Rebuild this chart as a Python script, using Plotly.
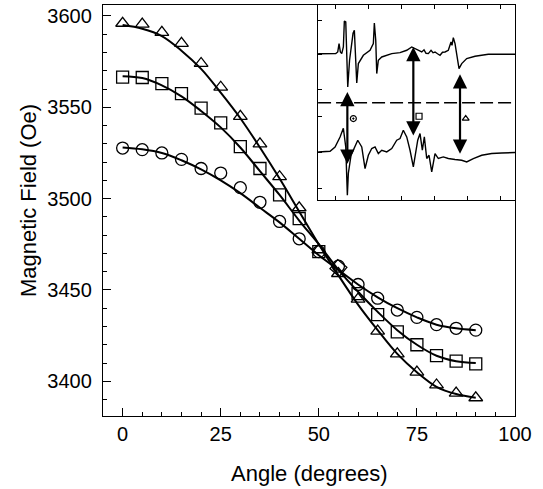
import plotly.graph_objects as go

# ---------------- main data ----------------
angles = [0, 5, 10, 15, 20, 25, 30, 35, 40, 45, 50, 55, 60, 65, 70, 75, 80, 85, 90]

tri_pts = [3596, 3595.5, 3591, 3585, 3574, 3561, 3545, 3530, 3512, 3495, 3472, 3459,
           3445, 3427.5, 3415, 3405, 3398, 3393.5, 3391]
sq_pts = [3566.5, 3566.3, 3563, 3557.5, 3549.5, 3541.5, 3528.5, 3516.5, 3502, 3489, 3471,
          3462, 3448, 3436.5, 3427, 3420, 3414, 3411, 3409.5]
circ_pts = [3527.7, 3526.8, 3525, 3521.5, 3516.5, 3514, 3506, 3498, 3487.5, 3478, 3471,
            3463, 3453, 3445.5, 3439, 3435, 3431, 3429, 3428]

# fitted curves
tri_fit = [3595, 3593, 3589, 3581, 3571, 3558, 3544, 3528, 3511, 3493, 3475, 3458,
           3442, 3428, 3415, 3405, 3397, 3393, 3391]
sq_fit = [3567, 3566, 3562, 3556, 3548, 3539, 3528, 3515, 3502, 3488, 3475, 3461,
          3449, 3438, 3428, 3420, 3414, 3411, 3410]
circ_fit = [3528, 3527, 3525, 3521, 3516, 3510, 3503, 3495, 3487, 3478, 3469, 3461,
            3453, 3446, 3440, 3435, 3431, 3429, 3428]

x_ticks = [0, 25, 50, 75, 100]
y_ticks = [3400, 3450, 3500, 3550, 3600]

# ---------------- inset data (arbitrary units) ----------------
top_x = [0, 17.7, 19.7, 21, 22.3, 23.7, 25.3, 26.3, 27.7, 28.7, 29.7, 31.5, 35, 36.3, 38.7,
         40.3, 45.3, 52, 55.3, 56.3, 57.7, 58.7, 60.3, 63.7, 73.7, 82, 88.7, 93.7, 97,
         100, 103.7, 106, 108, 110.3, 113, 115, 117, 119.5, 122, 124.5, 127, 130.3, 133,
         134, 135.3, 137, 138.7, 141, 143.7, 148.7, 157, 170.3, 197]
top_y = [146.5, 146.7, 148.3, 156.7, 148.3, 146.7, 153.3, 179.3, 178.3, 143.3, 113.3, 140,
         167, 170, 117.3, 136.7, 145, 150, 156.7, 177.3, 160, 126.7, 140, 143.3, 146.7,
         147.7, 150, 153.3, 151.7, 149.5, 148.3, 150.5, 147, 146.7, 150, 147.5, 148.3,
         146.5, 145, 148, 148.3, 150, 158.3, 155, 162.7, 156.7, 145, 131.7, 136.7, 141.7,
         144, 146, 146]

bot_x = [0, 12, 17, 22, 25.3, 27.7, 29.3, 30.3, 33, 36.3, 39.7, 43.7, 47, 50.3, 53.7, 57,
         60.3, 63.7, 68.7, 73.7, 78.7, 82, 85.3, 88.7, 92, 95.3, 98.7, 99.7, 102, 104.3,
         106.3, 108.7, 111, 113.7, 117, 120.3, 125.3, 130.3, 137, 143.7, 148.7, 155.3,
         163.7, 173.7, 183.7, 197]
bot_y = [48.3, 49, 53.3, 63.3, 72, 53.3, 5, 27, 45, 53.3, 60, 53.3, 31.7, 45, 51.7, 53.3,
         46.7, 50, 48.3, 51.7, 60, 61.7, 70, 63.3, 50, 33.3, 56.7, 60, 66.7, 50, 63.3, 41.7,
         45, 28.3, 46.7, 41.7, 43.3, 41.7, 40.7, 40, 38.3, 41.7, 45, 46.7, 47.3, 47.7]

dash_y = 97.5
arrow_x = [29.3, 95.3, 142]
arrow_top = [108.3, 153.3, 126]
arrow_bot = [35, 63.3, 45]
label_x = [35.3, 101, 147.7]
label_y = [81.7, 84, 81.7]

FONT = "Liberation Sans, Arial, sans-serif"

fig = go.Figure()

# fitted curves
for fit in (tri_fit, sq_fit, circ_fit):
    fig.add_trace(go.Scatter(x=angles, y=fit, mode="lines",
                             line=dict(color="black", width=2, shape="spline"),
                             showlegend=False, hoverinfo="skip"))

# markers
sq_symbols = ["square-open"] * len(angles)
sq_angles = [0] * len(angles)
sq_angles[angles.index(55)] = 40

fig.add_trace(go.Scatter(x=angles, y=circ_pts, mode="markers",
                         marker=dict(symbol="circle-open", size=12, color="black",
                                     line=dict(width=1.3, color="black")),
                         showlegend=False))
fig.add_trace(go.Scatter(x=angles, y=sq_pts, mode="markers",
                         marker=dict(symbol=sq_symbols, angle=sq_angles, size=12, color="black",
                                     line=dict(width=1.3, color="black")),
                         showlegend=False))
fig.add_trace(go.Scatter(x=angles, y=tri_pts, mode="markers",
                         marker=dict(symbol="triangle-up-open", size=12, color="black",
                                     line=dict(width=1.3, color="black")),
                         showlegend=False))

# inset traces
fig.add_trace(go.Scatter(x=top_x, y=top_y, mode="lines", xaxis="x2", yaxis="y2",
                         line=dict(color="black", width=1.4), showlegend=False))
fig.add_trace(go.Scatter(x=bot_x, y=bot_y, mode="lines", xaxis="x2", yaxis="y2",
                         line=dict(color="black", width=1.4), showlegend=False))
fig.add_trace(go.Scatter(x=[0, 197], y=[dash_y, dash_y], mode="lines", xaxis="x2", yaxis="y2",
                         line=dict(color="black", width=1.3, dash="13px,5px"), showlegend=False))
fig.add_trace(go.Scatter(x=label_x, y=label_y, mode="markers", xaxis="x2", yaxis="y2",
                         marker=dict(symbol=["circle-open-dot", "square-open", "triangle-up-open"],
                                     size=6, color="black", line=dict(width=1.2, color="black")),
                         showlegend=False))

annotations = []
for ax_, yt, yb in zip(arrow_x, arrow_top, arrow_bot):
    annotations.append(dict(x=ax_, y=yt, ax=ax_, ay=yb, xref="x2", yref="y2",
                            axref="x2", ayref="y2", text="", showarrow=True,
                            arrowhead=2, arrowside="end+start", arrowsize=1.3,
                            arrowwidth=2.2, arrowcolor="black"))

annotations.append(dict(text="Magnetic Field (Oe)", x=-0.182, y=0.523, xref="paper", yref="paper",
                        showarrow=False, textangle=-90, xanchor="center", yanchor="middle",
                        font=dict(family=FONT, size=22, color="black")))
annotations.append(dict(text="Angle (degrees)", x=0.502, y=-0.141, xref="paper", yref="paper",
                        showarrow=False, xanchor="center", yanchor="middle",
                        font=dict(family=FONT, size=22, color="black")))

fig.update_layout(
    width=543, height=489,
    margin=dict(l=103, r=28, t=5, b=73),
    paper_bgcolor="white", plot_bgcolor="white",
    font=dict(family=FONT, size=20, color="black"),
    annotations=annotations,
    xaxis=dict(range=[-5, 100], tickvals=x_ticks, ticks="inside", ticklen=8, tickwidth=1.3,
               tickcolor="black", showline=True, linecolor="black", linewidth=1.3, mirror=True,
               showgrid=False, zeroline=False, ticklabelstandoff=0,
               minor=dict(dtick=5, tick0=0, ticks="inside", ticklen=4, tickwidth=1.2,
                          tickcolor="black", showgrid=False),
               tickfont=dict(family=FONT, size=20, color="black")),
    yaxis=dict(range=[3381, 3606], tickvals=y_ticks, ticks="inside", ticklen=8, tickwidth=1.3,
               tickcolor="black", showline=True, linecolor="black", linewidth=1.3, mirror=True,
               showgrid=False, zeroline=False, ticklabelstandoff=6,
               minor=dict(dtick=10, tick0=3400, ticks="inside", ticklen=4, tickwidth=1.2,
                          tickcolor="black", showgrid=False),
               tickfont=dict(family=FONT, size=20, color="black")),
    xaxis2=dict(domain=[0.522, 1.0], anchor="y2", range=[0, 197], showgrid=False, zeroline=False,
                showticklabels=False, ticks="inside", ticklen=4, tickwidth=1.2, tickcolor="black",
                tickvals=[17, 50, 83, 116, 149, 182], showline=True, linecolor="black",
                linewidth=1.3, mirror="ticks"),
    yaxis2=dict(domain=[0.525, 1.0], anchor="x2", range=[0, 195.3], showgrid=False, zeroline=False,
                showticklabels=False, ticks="inside", ticklen=4, tickwidth=1.2, tickcolor="black",
                tickvals=[12, 48, 84, 111, 145.5, 180], showline=True, linecolor="black",
                linewidth=1.3, mirror=True),
)

fig.write_html("out.html", config={"displayModeBar": False},
               post_script="document.body.style.margin='0px';document.body.style.padding='0px';")
